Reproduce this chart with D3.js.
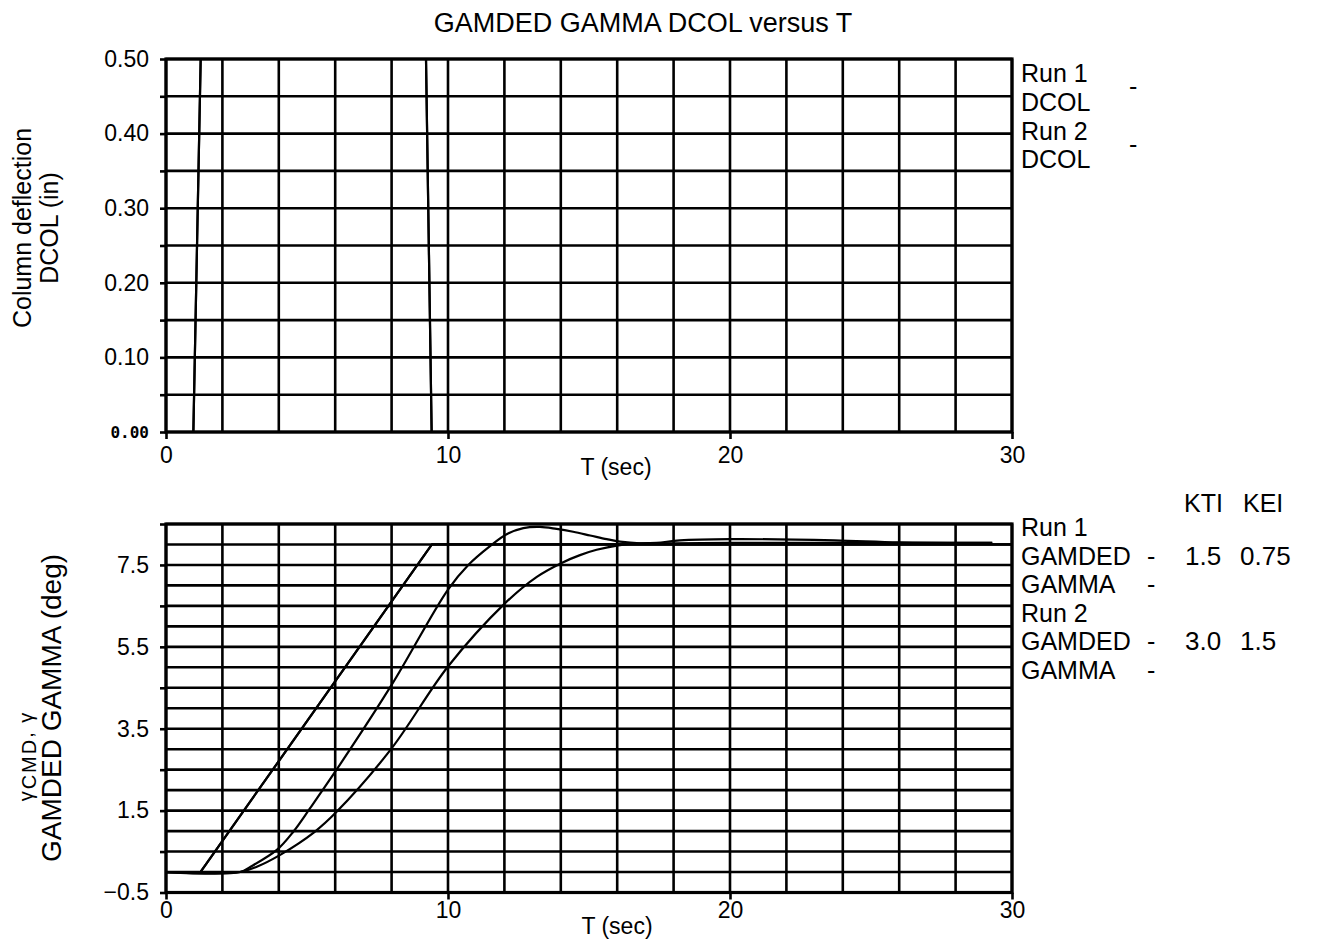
<!DOCTYPE html>
<html>
  <head>
    <meta charset="utf-8">
    <title>GAMDED GAMMA DCOL versus T</title>
    <script src="https://cdn.jsdelivr.net/npm/d3@7"></script>
    <style>
      body { margin: 0; background: #fff; }
      svg { display: block; font-family: "Liberation Sans", Arial, sans-serif; fill: #000; }
      .grid line { stroke: #000; stroke-width: 2.6; }
      .frame { fill: none; stroke: #000; stroke-width: 3.2; }
      .trace { fill: none; stroke: #000; stroke-width: 2.2; stroke-linejoin: round; }
      .axis path { display: none; }
      .axis line { stroke: #000; stroke-width: 2.6; }
      .axis text { font-family: "Liberation Sans", Arial, sans-serif; font-size: 23px; fill: #000; }
    </style>
  </head>
  <body>
    <svg id="chart" width="1324" height="943"></svg>
    <script>
      // time axis shared by both panels
      var tTicks = [0, 10, 20, 30];
      var tGrid = d3.range(0, 31, 2);

      // top panel: column deflection
      var dcolTicks = [0.00, 0.10, 0.20, 0.30, 0.40, 0.50];
      var dcolGrid = [0.00, 0.05, 0.10, 0.15, 0.20, 0.25, 0.30, 0.35, 0.40, 0.45, 0.50];
      // null = off the top of the scale
      var dcolRun1 = [[0, 0], [0.97, 0], [1.23, 0.5], [1.25, null], [9.2, null], [9.22, 0.5], [9.42, 0], [30, 0]];
      var dcolRun2 = [[0, 0], [0.97, 0], [1.23, 0.5], [1.25, null], [9.2, null], [9.22, 0.5], [9.42, 0], [30, 0]];

      // bottom panel: flight path angle
      var gamTicks = [-0.5, 1.5, 3.5, 5.5, 7.5];
      var gamMinor = [-0.5, 0.5, 1.5, 2.5, 3.5, 4.5, 5.5, 6.5, 7.5, 8.5];
      var gamGrid = d3.range(-0.5, 8.51, 0.5);
      var gamdedRun1 = [[0, 0], [1.22, 0], [9.43, 8.0], [30, 8.0]];
      var gamdedRun2 = [[0, 0], [1.22, 0], [9.43, 8.0], [30, 8.0]];
      var gammaRun1 = [[0, 0], [2.63, 0], [3.22, 0.13], [4.05, 0.42], [5.25, 0.97], [6.05, 1.47], [8.0, 3.02],
        [10.0, 5.02], [12.0, 6.55], [13.15, 7.21], [14.03, 7.55], [14.68, 7.74], [15.27, 7.87], [16.04, 7.98],
        [16.81, 8.03], [18.0, 8.03], [20.0, 8.04], [24.0, 8.04], [29.3, 8.04]];
      var gammaRun2 = [[0, 0], [2.63, 0], [3.0, 0.13], [3.93, 0.54], [4.52, 0.99], [5.11, 1.56], [6.0, 2.45],
        [8.0, 4.57], [10.0, 6.9], [10.72, 7.5], [11.49, 7.96], [12.08, 8.25], [12.67, 8.40],
        [13.26, 8.43], [13.85, 8.38], [14.44, 8.31], [15.04, 8.22], [15.63, 8.13], [16.1, 8.07], [16.81, 8.03],
        [17.4, 8.04], [18.22, 8.1], [20.0, 8.13], [23.7, 8.1], [26.0, 8.05], [29.3, 8.04]];

      // legend text
      var topLegend = ["Run 1", "DCOL", "Run 2", "DCOL"];
      var botLegend = ["Run 1", "GAMDED", "GAMMA", "Run 2", "GAMDED", "GAMMA"];
      var gainHeads = ["KTI", "KEI"];
      var gainRun1 = ["1.5", "0.75"];
      var gainRun2 = ["3.0", "1.5"];

      var svg = d3.select("#chart");
      var x = d3.scaleLinear().domain([0, 30]).range([166, 1012]);
      var yTop = d3.scaleLinear().domain([0, 0.5]).range([432, 59]);
      var yBot = d3.scaleLinear().domain([-0.5, 8.5]).range([892.5, 524]);

      svg.append("text")
        .attr("x", 643).attr("y", 32)
        .attr("text-anchor", "middle")
        .style("font-size", "27px")
        .text("GAMDED GAMMA DCOL versus T");

      function panel(y, yGrid, clipId) {
        var g = svg.append("g");
        var grid = g.append("g").attr("class", "grid");
        grid.selectAll(".h")
          .data(yGrid)
          .enter().append("line")
            .attr("x1", x(0)).attr("x2", x(30))
            .attr("y1", function(d) { return y(d); })
            .attr("y2", function(d) { return y(d); });
        grid.selectAll(".v")
          .data(tGrid)
          .enter().append("line")
            .attr("x1", function(d) { return x(d); })
            .attr("x2", function(d) { return x(d); })
            .attr("y1", y.range()[0]).attr("y2", y.range()[1]);
        g.append("rect")
          .attr("class", "frame")
          .attr("x", x(0)).attr("y", y.range()[1])
          .attr("width", x(30) - x(0))
          .attr("height", y.range()[0] - y.range()[1]);
        g.append("clipPath").attr("id", clipId)
          .append("rect")
            .attr("x", x(0)).attr("y", y.range()[1])
            .attr("width", x(30) - x(0))
            .attr("height", y.range()[0] - y.range()[1]);
        // time ticks and labels
        g.append("g")
          .attr("class", "axis")
          .attr("transform", "translate(0," + y.range()[0] + ")")
          .call(d3.axisBottom(x).tickValues(tTicks).tickSize(7).tickPadding(clipId == "clipTop" ? 8 : 2));
        return g;
      }

      // ---- top panel
      var topPanel = panel(yTop, dcolGrid, "clipTop");
      topPanel.append("g")
        .attr("class", "axis")
        .attr("transform", "translate(" + x(0) + ",0)")
        .call(d3.axisLeft(yTop).tickValues(dcolGrid).tickSize(6).tickPadding(11)
          .tickFormat(function(d) { return dcolTicks.indexOf(d) >= 0 ? d3.format(".2f")(d) : ""; }))
        .selectAll("text")
          .filter(function(d) { return d == 0; })
          .style("font-family", "'DejaVu Sans Mono', monospace")
          .style("font-weight", "bold")
          .style("font-size", "16px");
      var dLine = d3.line()
        .defined(function(d) { return d[1] != null; })
        .x(function(d) { return x(d[0]); })
        .y(function(d) { return yTop(d[1]); });
      topPanel.append("g")
        .attr("clip-path", "url(#clipTop)")
        .selectAll("path")
          .data([dcolRun1, dcolRun2])
        .enter().append("path")
          .attr("class", "trace")
          .attr("d", dLine);
      topPanel.append("text")
        .attr("x", 616).attr("y", 475)
        .attr("text-anchor", "middle")
        .style("font-size", "23px")
        .text("T (sec)");
      // y label
      var topLab = topPanel.append("g").attr("transform", "translate(31,228) rotate(-90)");
      topLab.append("text").attr("text-anchor", "middle").style("font-size", "25px").text("Column deflection");
      topLab.append("text").attr("text-anchor", "middle").attr("y", 27).style("font-size", "25px").text("DCOL (in)");
      // legend
      topPanel.selectAll(".leg")
        .data(topLegend)
        .enter().append("text")
          .attr("x", 1021)
          .attr("y", function(d, i) { return 82 + i * 28.8; })
          .style("font-size", "25px")
          .text(function(d) { return d; });
      topPanel.selectAll(".dash")
        .data([0, 2])
        .enter().append("text")
          .attr("x", 1129)
          .attr("y", function(d) { return 95 + d * 28.8; })
          .style("font-size", "25px")
          .text("-");

      // ---- bottom panel
      var botPanel = panel(yBot, gamGrid, "clipBot");
      botPanel.append("g")
        .attr("class", "axis")
        .attr("transform", "translate(" + x(0) + ",0)")
        .call(d3.axisLeft(yBot).tickValues(gamMinor).tickSize(6).tickPadding(11)
          .tickFormat(function(d) { return gamTicks.indexOf(d) >= 0 ? d3.format(".1f")(d).replace("-", "\u2212") : ""; }));
      // command is a straight ramp, response is smooth
      var rampLine = d3.line()
        .x(function(d) { return x(d[0]); })
        .y(function(d) { return yBot(d[1]); });
      var gLine = d3.line()
        .curve(d3.curveCatmullRom.alpha(0.5))
        .x(function(d) { return x(d[0]); })
        .y(function(d) { return yBot(d[1]); });
      var traces = botPanel.append("g").attr("clip-path", "url(#clipBot)");
      traces.selectAll(".cmd")
        .data([gamdedRun1, gamdedRun2])
        .enter().append("path")
          .attr("class", "trace")
          .attr("d", rampLine);
      traces.selectAll(".resp")
        .data([gammaRun1, gammaRun2])
        .enter().append("path")
          .attr("class", "trace")
          .attr("d", gLine);
      botPanel.append("text")
        .attr("x", 617).attr("y", 934)
        .attr("text-anchor", "middle")
        .style("font-size", "23px")
        .text("T (sec)");
      // y label
      var gamSub = botPanel.append("text")
        .attr("transform", "translate(33,756) rotate(-90)")
        .attr("text-anchor", "middle")
        .style("font-size", "20px")
        .style("letter-spacing", "2px");
      gamSub.append("tspan").text("\u03b3");
      gamSub.append("tspan").attr("dy", 3).text("CMD");
      gamSub.append("tspan").attr("dy", -3).text(", \u03b3");
      botPanel.append("text")
        .attr("transform", "translate(61,708) rotate(-90)")
        .attr("text-anchor", "middle")
        .style("font-size", "28px")
        .text("GAMDED GAMMA (deg)");
      // legend
      botPanel.selectAll(".leg")
        .data(botLegend)
        .enter().append("text")
          .attr("x", 1021)
          .attr("y", function(d, i) { return 536 + i * 28.5; })
          .style("font-size", "25px")
          .text(function(d) { return d; });
      botPanel.selectAll(".dash")
        .data([1, 2, 4, 5])
        .enter().append("text")
          .attr("x", 1147)
          .attr("y", function(d) { return 536 + d * 28.5; })
          .style("font-size", "25px")
          .text("-");
      botPanel.selectAll(".head")
        .data(gainHeads)
        .enter().append("text")
          .attr("x", function(d, i) { return [1184, 1243][i]; })
          .attr("y", 512)
          .style("font-size", "25px")
          .text(function(d) { return d; });
      botPanel.selectAll(".g1")
        .data(gainRun1)
        .enter().append("text")
          .attr("x", function(d, i) { return [1185, 1240][i]; })
          .attr("y", 536 + 28.5)
          .style("font-size", "26px")
          .text(function(d) { return d; });
      botPanel.selectAll(".g2")
        .data(gainRun2)
        .enter().append("text")
          .attr("x", function(d, i) { return [1185, 1240][i]; })
          .attr("y", 536 + 4 * 28.5)
          .style("font-size", "26px")
          .text(function(d) { return d; });
    </script>
  </body>
</html>
